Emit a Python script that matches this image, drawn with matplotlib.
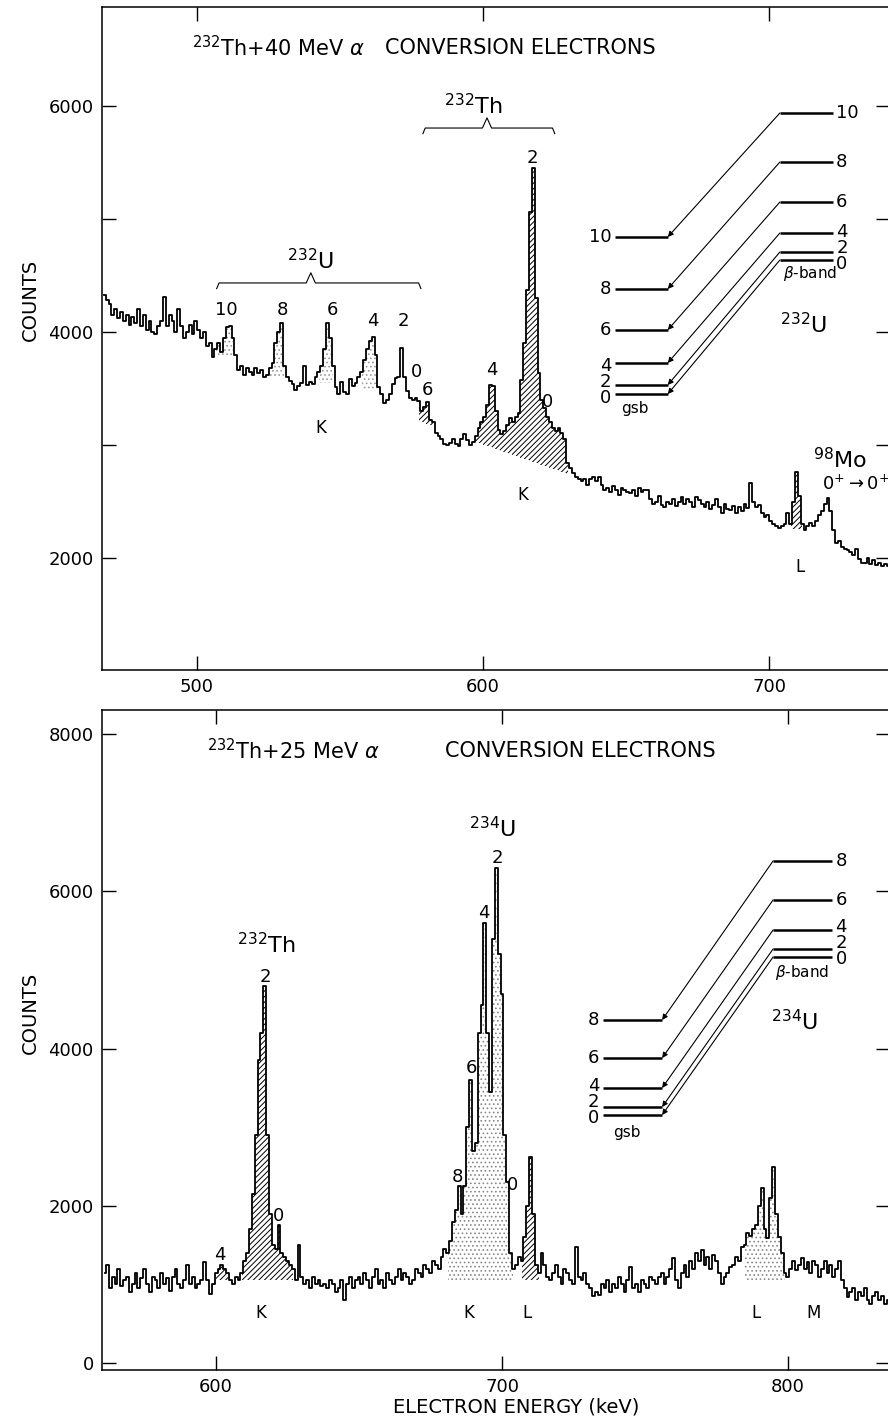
import matplotlib
matplotlib.use('Agg')
import matplotlib.pyplot as plt
import numpy as np

plt.rcParams['font.family'] = ['DejaVu Sans']
plt.rcParams['mathtext.fontset'] = 'dejavusans'
plt.rcParams['hatch.linewidth'] = 0.7

# ── top spectrum: 232Th + 40 MeV alpha, 1 keV bins from 467.6 keV ──
top_e0 = 467.6
top_counts = [
    4330, 4280, 4250, 4150, 4200, 4120, 4180, 4100, 4150, 4060,
    4130, 4080, 4200, 4050, 4150, 4020, 4100, 4000, 3980, 4050,
    4100, 4310, 4050, 4150, 4100, 4000, 4200, 4050, 3950, 4000,
    4060, 3980, 4100, 4020, 3950, 4000, 3880, 3900, 3780, 3850,
    3900, 3820, 3950, 4040, 4050, 3950, 3800, 3660, 3700, 3620,
    3680, 3650, 3620, 3680, 3640, 3660, 3600, 3620, 3680, 3725,
    3900, 4000, 4080, 3700, 3600, 3570, 3540, 3490, 3520, 3550,
    3700, 3530, 3560, 3540, 3600, 3650, 3700, 3850, 4080, 3950,
    3700, 3510, 3450, 3560, 3470, 3450, 3580, 3520, 3550, 3600,
    3650, 3750, 3850, 3920, 3960, 3800, 3510, 3450, 3370, 3400,
    3450, 3540, 3590, 3600, 3860, 3600, 3480, 3420, 3400, 3420,
    3390, 3300, 3340, 3380, 3220, 3200, 3105, 3080, 3050, 3010,
    3000, 3015, 3050, 3010, 2990, 3050, 3100, 3040, 3000, 3030,
    3080, 3150, 3200, 3250, 3350, 3530, 3520, 3300, 3130, 3100,
    3120, 3180, 3240, 3200, 3250, 3280, 3575, 3900, 4370, 5060,
    5450, 4300, 3640, 3400, 3330, 3250, 3200, 3150, 3120, 3150,
    3105, 3050, 2840, 2800, 2750, 2720, 2700, 2680, 2700, 2650,
    2700, 2720, 2680, 2717, 2650, 2600, 2620, 2580, 2640, 2600,
    2560, 2620, 2600, 2580, 2575, 2600, 2550, 2620, 2580, 2600,
    2600, 2520, 2480, 2500, 2550, 2470, 2450, 2500, 2480, 2520,
    2460, 2500, 2540, 2480, 2520, 2500, 2450, 2540, 2510, 2480,
    2450, 2500, 2430, 2470, 2520, 2450, 2400, 2480, 2430, 2425,
    2460, 2400, 2450, 2420, 2480, 2440, 2664, 2500, 2450, 2470,
    2400, 2365, 2380, 2330, 2300, 2280, 2265, 2280, 2300, 2400,
    2300, 2500, 2760, 2550, 2300, 2250, 2280, 2310, 2280, 2330,
    2380, 2420, 2480, 2530, 2420, 2250, 2135, 2150, 2100, 2080,
    2075, 2050, 2030, 2080, 1990, 1960, 1955, 2000, 1950, 1980,
    1940, 1960, 1930, 1950, 1930,
]

# ── bottom spectrum: 232Th + 25 MeV alpha, 1 keV bins from 561 keV ──
bot_e0 = 561
bot_counts = [
    1150, 1250, 950, 1100, 1000, 1200, 980, 1050, 1100, 900,
    1000, 1150, 950, 1080, 1200, 1000, 900, 1100, 1050, 950,
    1150, 1000, 1080, 920, 1100, 1200, 1000, 950, 1050, 1250,
    1000, 1100, 950, 1000, 1050, 1280, 1050, 880, 1000, 1150,
    1200, 1250, 1200, 1150, 1050, 1000, 1100, 1050, 1150, 1300,
    1400, 1700, 2150, 2900, 3850, 4200, 4800, 2900, 1900, 1500,
    1450, 1750, 1400, 1350, 1300, 1250, 1200, 1050, 1500, 1100,
    1000, 1050, 950, 1100, 1000, 1050, 980, 1000, 950, 1050,
    1000, 900, 950, 1050, 800, 1000, 1100, 950, 1050, 1100,
    1000, 1150, 1050, 950, 1100, 1200, 1000, 1050, 950, 1150,
    1050, 1000, 1100, 1200, 1050, 1150, 1100, 1000, 1050, 1200,
    1150, 1100, 1250, 1200, 1150, 1300, 1250, 1200, 1350, 1450,
    1400, 1550, 1800, 1950, 2250, 1900, 2250, 3000, 3600, 2700,
    2800, 4200, 4550, 5600, 4200, 3450, 5400, 6300, 5200, 4700,
    2900, 2300, 1400, 1200, 1250, 1350, 1300, 1600, 2000, 2620,
    1900, 1250, 1150, 1400, 1250, 1100, 1050, 1150, 1250, 1100,
    1000, 1200, 1150, 1050, 1000, 1480, 1100, 1050, 1150, 1000,
    950, 850, 900, 870, 1000, 950, 1050, 900, 1000, 950,
    1100, 1000, 900, 1050, 1220, 950, 1000, 900, 1050, 1000,
    950, 1100, 1050, 1000, 1100, 1150, 1000, 1090, 1200, 1340,
    1050, 950, 1150, 1250, 1100, 1300, 1200, 1400, 1300, 1440,
    1250, 1350, 1200, 1380, 1300, 1150, 1000, 1100, 1150, 1220,
    1250, 1350, 1300, 1480, 1500, 1650, 1620, 1700, 1750, 2000,
    2226, 1700, 1590, 2100, 2500, 1900, 1600, 1400, 1150, 1090,
    1200, 1300, 1180, 1250, 1330, 1200, 1280, 1150, 1300, 1250,
    1100, 1200, 1300, 1150, 1250, 1100, 1200, 1300, 1050, 950,
    840, 900, 950, 800, 900, 850, 950, 800, 750, 850,
    900, 800, 850, 750, 800,
]

# shaded peak regions (keV ranges) and their baselines
top_hatch_base_e = [577.6, 630.6]        # sloping background under 232Th K lines
top_hatch_base_c = [3210, 2730]
top_hatch_range = (577.5, 629.7)
top_L_range = (707.5, 712.7)
top_L_base = 2260
top_dot_ranges = [(506.5, 514.7), (525.5, 531.7), (542.5, 548.7), (557.5, 564.7)]
top_dot_bases = [3800, 3600, 3550, 3480]
bot_base = 1050
bot_hatch_ranges = [(600, 628), (707, 713)]
bot_dot_ranges = [(681, 704), (785, 799)]

# level schemes: gsb / beta-band level heights in count units of each panel
top_spins = ['10', '8', '6', '4', '2', '0']
top_gsb = [4841, 4381, 4018, 3726, 3531, 3451]
top_beta = [5938, 5504, 5150, 4876, 4708, 4637]
top_gsb_lab = [4841, 4381, 4018, 3558]      # last entry: stacked "4 2 0"
top_beta_lab = [5938, 5504, 5150, 4743]
top_lvl_x = [646.1, 664.6, 703.8, 722.3]   # gsb start, gsb end, beta start, beta end

bot_spins = ['8', '6', '4', '2', '0']
bot_gsb = [4364, 3880, 3499, 3257, 3155]
bot_beta = [6387, 5891, 5509, 5267, 5165]
bot_gsb_lab = [4364, 3880, 3321]
bot_beta_lab = [6387, 5891, 5344]
bot_lvl_x = [735.3, 756, 794.8, 815.4]

FS = 13

fig = plt.figure(figsize=(8.88, 14.21), dpi=100)
ax1 = fig.add_axes([102/888, 1 - 670/1421, 788/888, 663/1421])
ax2 = fig.add_axes([102/888, 1 - 1370/1421, 788/888, 660/1421])


def spectrum(ax, e0, counts):
    e = e0 + np.arange(len(counts))
    c = np.array(counts, dtype=float)
    ax.step(e, c, where='mid', color='k', lw=1.3, zorder=3)
    return e, c


def shade(ax, e, c, lo, hi, base, hatch, color):
    m = (e >= lo) & (e <= hi)
    ax.fill_between(e, base, c, where=m & (c > base), step='mid',
                    facecolor='none', edgecolor=color, hatch=hatch, lw=0)


def levels(ax, spins, gsb, beta, gsb_lab, beta_lab, xs, gsb_text, beta_text, nucl):
    x0, x1, x2, x3 = xs
    for g, b in zip(gsb, beta):
        ax.plot([x0, x1], [g, g], color='k', lw=1.8, solid_capstyle='butt')
        ax.plot([x2, x3], [b, b], color='k', lw=1.8, solid_capstyle='butt')
        ax.annotate('', xy=(x1, g), xytext=(x2, b),
                    arrowprops=dict(arrowstyle='-|>', lw=0.8, color='k',
                                    mutation_scale=8, shrinkA=0, shrinkB=0))
    # single labels, then the tightly stacked 4/2/0 as one text
    n = len(gsb_lab) - 1
    labs = spins[:n] + ['\n'.join(spins[n:])]
    for s, gl, bl in zip(labs, gsb_lab, beta_lab):
        ax.text(x0 - 1.2, gl, s, ha='right', va='center', fontsize=FS,
                linespacing=0.85, multialignment='center')
        ax.text(x3 + 1.2, bl, s, ha='left', va='center', fontsize=FS,
                linespacing=0.85, multialignment='center')
    ax.text(*gsb_text, 'gsb', ha='center', va='center', fontsize=11)
    ax.text(*beta_text, r'$\beta$-band', ha='center', va='center', fontsize=11)
    ax.text(*nucl[0:2], nucl[2], ha='center', va='baseline', fontsize=16)


def brace(ax, x0, x1, xa, y, h, tip):
    ax.plot([x0, x0 + 0.8, xa - 1.6, xa, xa + 1.6, x1 - 0.8, x1],
            [y - h, y, y, y + tip, y, y, y - h], color='k', lw=0.8)


# ── top panel ─────────────────────────────────────────────────────
e, c = spectrum(ax1, top_e0, top_counts)
base = np.interp(e, top_hatch_base_e, top_hatch_base_c)
shade(ax1, e, c, *top_hatch_range, base, '//////', 'k')
shade(ax1, e, c, *top_L_range, top_L_base, '//////', 'k')
for (lo, hi), b in zip(top_dot_ranges, top_dot_bases):
    shade(ax1, e, c, lo, hi, b, '....', '#9a9a9a')

ax1.set_xlim(466.8, 742.3)
ax1.set_ylim(1009, 6876)
ax1.set_xticks([500, 600, 700])
ax1.set_yticks([2000, 4000, 6000])
ax1.set_yticks([3000, 5000], minor=True)

ax1.text(498.3, 6513, r'$^{232}$Th+40 MeV $\alpha$', ha='left', va='center', fontsize=15)
ax1.text(565.7, 6513, 'CONVERSION ELECTRONS', ha='left', va='center', fontsize=15)

brace(ax1, 506.9, 578.3, 539.8, 4434, 50, 90)
ax1.text(539.8, 4560, r'$^{232}$U', ha='center', va='baseline', fontsize=16)
brace(ax1, 579.0, 625.1, 601.4, 5805, 50, 90)
ax1.text(596.6, 5930, r'$^{232}$Th', ha='center', va='baseline', fontsize=16)

top_peak_labels = [('10', 510.1, 4195), ('8', 530.0, 4195), ('6', 547.2, 4195),
                   ('4', 561.5, 4097), ('2', 572.0, 4097), ('0', 576.9, 3646),
                   ('6', 580.7, 3487), ('4', 603.1, 3664), ('2', 617.1, 5540),
                   ('0', 622.7, 3381)]
for s, x, y in top_peak_labels:
    ax1.text(x, y, s, ha='center', va='center', fontsize=FS)
ax1.text(543.3, 3150, 'K', ha='center', va='center', fontsize=12)
ax1.text(614.0, 2558, 'K', ha='center', va='center', fontsize=12)
ax1.text(710.8, 1920, 'L', ha='center', va='center', fontsize=12)
ax1.text(715.3, 2796, r'$^{98}$Mo', ha='left', va='baseline', fontsize=16)
ax1.text(718.5, 2655, r'0$^{+}$$\rightarrow$0$^{+}$', ha='left', va='center', fontsize=13)

levels(ax1, top_spins, top_gsb, top_beta, top_gsb_lab, top_beta_lab, top_lvl_x,
       (653.1, 3327), (714.3, 4522), (712.2, 3990, r'$^{232}$U'))

# ── bottom panel ──────────────────────────────────────────────────
e, c = spectrum(ax2, bot_e0, bot_counts)
for lo, hi in bot_hatch_ranges:
    shade(ax2, e, c, lo, hi, bot_base, '//////', 'k')
for lo, hi in bot_dot_ranges:
    shade(ax2, e, c, lo, hi, bot_base, '....', '#8a8a8a')

ax2.set_xlim(560.1, 835.7)
ax2.set_ylim(-89, 8308)
ax2.set_xticks([600, 700, 800])
ax2.set_yticks([0, 2000, 4000, 6000, 8000])

ax2.text(596.9, 7786, r'$^{232}$Th+25 MeV $\alpha$', ha='left', va='center', fontsize=15)
ax2.text(680, 7786, 'CONVERSION ELECTRONS', ha='left', va='center', fontsize=15)
ax2.text(617.5, 5220, r'$^{232}$Th', ha='center', va='baseline', fontsize=16)
ax2.text(696.5, 6692, r'$^{234}$U', ha='center', va='baseline', fontsize=16)

bot_peak_labels = [('2', 617.1, 4911), ('4', 601.4, 1374), ('0', 621.7, 1870),
                   ('2', 698.3, 6425), ('4', 693.7, 5725), ('6', 689.2, 3753),
                   ('8', 684.3, 2366), ('0', 703.5, 2265)]
for s, x, y in bot_peak_labels:
    ax2.text(x, y, s, ha='center', va='center', fontsize=FS)
for s, x in [('K', 615.7), ('K', 688.5), ('L', 708.7), ('L', 788.8), ('M', 809.1)]:
    ax2.text(x, 636, s, ha='center', va='center', fontsize=12)

levels(ax2, bot_spins, bot_gsb, bot_beta, bot_gsb_lab, bot_beta_lab, bot_lvl_x,
       (743.7, 2939), (804.9, 4962), (802.4, 4237, r'$^{234}$U'))

for ax in (ax1, ax2):
    ax.tick_params(which='both', direction='in', length=10, width=1,
                   top=True, right=True, labelsize=FS, pad=6)
    for sp in ax.spines.values():
        sp.set_linewidth(1.1)

fig.text(30/888, 1 - 300/1421, 'COUNTS', rotation=90, ha='center', va='center', fontsize=14)
fig.text(30/888, 1 - 1013/1421, 'COUNTS', rotation=90, ha='center', va='center', fontsize=14)
fig.text(516/888, 1 - 1407/1421, 'ELECTRON ENERGY (keV)', ha='center', va='center', fontsize=14)

fig.savefig('out.png', dpi=100)
